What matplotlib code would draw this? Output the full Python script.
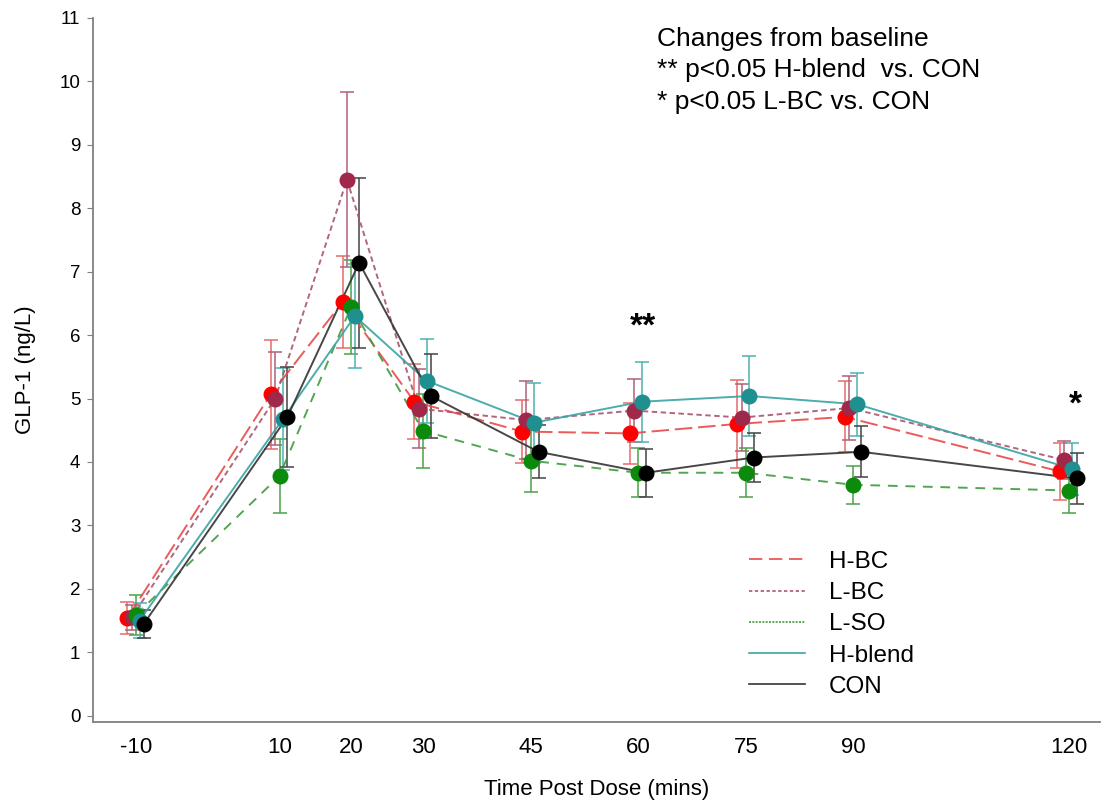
import matplotlib
matplotlib.use("Agg")
import matplotlib.pyplot as plt
from matplotlib.lines import Line2D
import numpy as np

plt.rcParams['font.family'] = ['Liberation Sans', 'DejaVu Sans']

# ---------------- data ----------------
times = [-10, 10, 20, 30, 45, 60, 75, 90, 120]
time_labels = ['-10', '10', '20', '30', '45', '60', '75', '90', '120']

groups = ['H-BC', 'L-BC', 'L-SO', 'H-blend', 'CON']

hbc_mean = [1.54, 5.07, 6.52, 4.95, 4.48, 4.45, 4.60, 4.71, 3.85]
hbc_sem = [0.25, 0.86, 0.73, 0.59, 0.50, 0.48, 0.69, 0.56, 0.45]

lbc_mean = [1.55, 5.00, 8.45, 4.84, 4.66, 4.81, 4.70, 4.85, 4.03]
lbc_sem = [0.20, 0.74, 1.38, 0.62, 0.62, 0.50, 0.53, 0.51, 0.30]

lso_mean = [1.59, 3.78, 6.45, 4.49, 4.02, 3.83, 3.83, 3.64, 3.55]
lso_sem = [0.32, 0.58, 0.74, 0.58, 0.50, 0.39, 0.39, 0.30, 0.35]

hblend_mean = [1.50, 4.68, 6.30, 5.28, 4.62, 4.95, 5.04, 4.91, 3.89]
hblend_sem = [0.28, 0.80, 0.82, 0.66, 0.63, 0.63, 0.63, 0.50, 0.41]

con_mean = [1.45, 4.71, 7.14, 5.04, 4.16, 3.83, 4.07, 4.16, 3.74]
con_sem = [0.22, 0.79, 1.34, 0.66, 0.42, 0.38, 0.38, 0.40, 0.40]

star_labels = ['**', '*']
star_times = [60, 120]
star_y = [6.12, 4.89]

# ---------------- styles ----------------
means = [hbc_mean, lbc_mean, lso_mean, hblend_mean, con_mean]
sems = [hbc_sem, lbc_sem, lso_sem, hblend_sem, con_sem]
marker_colors = ['#ff0000', '#a0284a', '#0b8a0b', '#1f8f8f', '#000000']
line_colors = ['#e84a4a', '#a8566e', '#3f9c3f', '#3aa3a3', '#333333']
err_colors = ['#e86a6a', '#b0607a', '#4aa24a', '#4fb0b0', '#444444']
dashes = [(9, 3), (2.8, 1.8), (5, 4), None, None]
legend_dashes = [(8, 4), (2, 1.5), (1.2, 0.8), None, None]
offsets = [-1.2, -0.6, 0.0, 0.5, 1.1]
star_dx = [0.6, 1.0]

fig = plt.figure(figsize=(11.04, 8.06), dpi=100)
ax = fig.add_axes([0.0842, 0.1042, 0.9118, 0.8735])

x = np.array(times, dtype=float)
for i in range(len(groups)):
    xs = x + offsets[i]
    ax.errorbar(xs, means[i], yerr=sems[i], fmt='none', ecolor=err_colors[i],
                elinewidth=1.3, capsize=5, capthick=1.3, alpha=0.85, zorder=2)
    ln, = ax.plot(xs, means[i], color=line_colors[i], lw=1.4, zorder=3, alpha=0.9)
    if dashes[i] is not None:
        ln.set_dashes(dashes[i])
    ax.plot(xs, means[i], linestyle='none', marker='o', ms=10.5,
            color=marker_colors[i], mec=marker_colors[i], zorder=4)

for lab, t, yv, dx in zip(star_labels, star_times, star_y, star_dx):
    ax.text(t + dx, yv, lab, ha='center', va='center', fontsize=24, fontweight='bold')

ax.set_xlim(-16, 124.3)
ax.set_ylim(-0.1, 11.0)
ax.set_xticks(times)
ax.set_xticklabels(time_labels)
ax.set_yticks(range(0, 12))
ax.tick_params(axis='x', length=0, labelsize=16, pad=11)
ax.tick_params(axis='y', length=4, color='#808080', labelsize=13.5, pad=5)
for s in ['top', 'right']:
    ax.spines[s].set_visible(False)
for s in ['left', 'bottom']:
    ax.spines[s].set_color('#808080')
    ax.spines[s].set_linewidth(1.3)

ax.set_xlabel('Time Post Dose (mins)', fontsize=16, labelpad=15)
ax.set_ylabel('GLP-1 (ng/L)', fontsize=16, labelpad=17)

handles = []
for i in range(len(groups)):
    h = Line2D([0], [0], color=line_colors[i], lw=1.2)
    if legend_dashes[i] is not None:
        h.set_dashes(legend_dashes[i])
    handles.append(h)
ax.legend(handles, groups, loc='upper left', bbox_to_anchor=(0.642, 0.257),
          frameon=False, fontsize=17.5, handlelength=2.3, labelspacing=0.38,
          handletextpad=1.0, borderaxespad=0)

fig.text(0.595, 0.967, 'Changes from baseline\n** p<0.05 H-blend  vs. CON\n* p<0.05 L-BC vs. CON',
         ha='left', va='top', fontsize=19, linespacing=1.4)

fig.savefig('out.png', dpi=100)
